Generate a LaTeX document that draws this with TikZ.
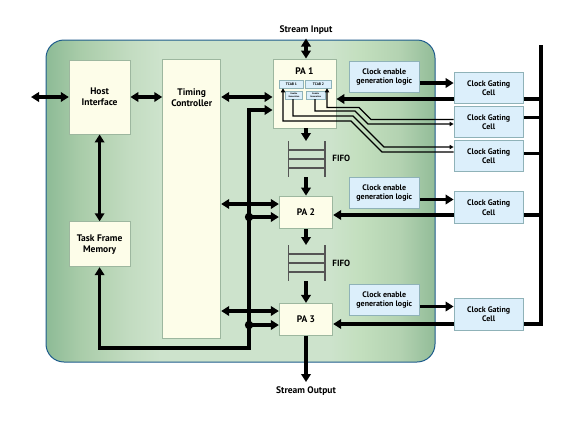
\documentclass[tikz,border=0pt]{standalone}
\usepackage{fontspec}
\setmainfont{PT Sans}
\usetikzlibrary{arrows.meta,calc}
\definecolor{yfill}{HTML}{FDFDE9}
\definecolor{yborder}{HTML}{9DB79F}
\definecolor{bfill}{HTML}{DCEFFB}
\definecolor{bborder}{HTML}{8FB2B8}
\definecolor{pborder}{HTML}{1E5C8C}
\definecolor{fifocol}{HTML}{555555}
\definecolor{ga}{HTML}{8DBB96}
\definecolor{gb}{HTML}{A9CCA9}
\definecolor{gc}{HTML}{C3DCC1}
\definecolor{gd}{HTML}{CDE3CC}
\definecolor{ge}{HTML}{C3DFBE}
\definecolor{gf}{HTML}{B3D2B1}
\definecolor{gg}{HTML}{92BC98}
\pgfdeclarehorizontalshading{panelshade}{100bp}{color(0bp)=(ga); color(25bp)=(ga); color(29.4bp)=(gb); color(35.8bp)=(gc); color(39.7bp)=(gd); color(61.5bp)=(gd); color(65.4bp)=(ge); color(70.5bp)=(gf); color(75bp)=(gg); color(100bp)=(gg)}
\tikzset{
  ybox/.style={draw=yborder, fill=yfill, line width=0.9pt, inner sep=0pt, align=center,
    font=\fontsize{9.5}{11}\selectfont\bfseries},
  bbox/.style={draw=bborder, fill=bfill, line width=0.9pt, inner sep=0pt, align=center,
    font=\fontsize{8}{9.5}\selectfont\bfseries},
  tbox/.style={draw=bborder, fill=bfill, line width=0.5pt, inner sep=0pt, align=center,
    font=\fontsize{3.6}{4}\selectfont\bfseries},
  ebox/.style={draw=bborder, fill=bfill, line width=0.4pt, inner sep=0pt, align=center,
    font=\fontsize{2.3}{2.6}\selectfont\bfseries},
  lbl/.style={inner sep=0pt, align=center, font=\fontsize{9.5}{11}\selectfont\bfseries},
  wire/.style={line width=3.1pt, black},
  arr/.style={wire, -{Triangle[length=8pt,width=9.5pt]}},
  darr/.style={wire, {Triangle[length=8pt,width=9.5pt]}-{Triangle[length=8pt,width=9.5pt]}},
  sig/.style={line width=1.2pt, black, -{Triangle[length=4pt,width=4.2pt]}},
  fifo/.style={line width=1.3pt, fifocol},
}
\begin{document}
\begin{tikzpicture}[x=1pt,y=-1pt]
\useasboundingbox (0,0) rectangle (569,429);
% panel
\shade[shading=panelshade, rounded corners=18pt] (46,40) rectangle (435,362);
\draw[pborder, line width=1pt, rounded corners=18pt] (46,40) rectangle (435,362);

% yellow boxes
\node[ybox, minimum width=60.7pt, minimum height=74pt] (host) at (99.6,97) {Host\\Interface};
\node[ybox, minimum width=58pt, minimum height=279pt] (timing) at (191.7,198.8) {};
\node[lbl] (timinglbl) at (191.7,97.5) {Timing\\Controller};
\node[ybox, minimum width=60.7pt, minimum height=45pt] (tfm) at (99.6,244.2) {Task Frame\\Memory};
\node[ybox, minimum width=63pt, minimum height=69pt] (pa1) at (304.5,93.5) {};
\node[lbl] (pa1lbl) at (304.5,71) {PA 1};
\node[ybox, minimum width=53.4pt, minimum height=32.3pt] (pa2) at (306,212.2) {PA 2};
\node[ybox, minimum width=53.4pt, minimum height=31.7pt] (pa3) at (306,319.2) {PA 3};

% inside PA1
\node[tbox, minimum width=24pt, minimum height=8pt] (tcab1) at (291.5,84) {TCAB 1};
\node[tbox, minimum width=26pt, minimum height=8pt] (tcab2) at (318.5,84) {TCAB 2};
\node[ebox, minimum width=17pt, minimum height=7.5pt] (eg1) at (294,95.2) {Enable\\Generation};
\node[ebox, minimum width=18.5pt, minimum height=7.5pt] (eg2) at (315.7,95.2) {Enable\\Generation};

% blue boxes
\node[bbox, minimum width=70pt, minimum height=31pt] (cegl1) at (384.3,77.2) {Clock enable\\generation logic};
\node[bbox, minimum width=70pt, minimum height=31pt] (cegl2) at (384.3,192.8) {Clock enable\\generation logic};
\node[bbox, minimum width=70pt, minimum height=31pt] (cegl3) at (384.3,300.2) {Clock enable\\generation logic};
\node[bbox, minimum width=69.3pt, minimum height=30.6pt] (cgc1) at (488.7,88) {Clock Gating\\Cell};
\node[bbox, minimum width=69.3pt, minimum height=30.6pt] (cgc2) at (488.7,122.2) {Clock Gating\\Cell};
\node[bbox, minimum width=69.3pt, minimum height=30.6pt] (cgc3) at (488.7,156.2) {Clock Gating\\Cell};
\node[bbox, minimum width=69.3pt, minimum height=31.6pt] (cgc4) at (488.7,207.5) {Clock Gating\\Cell};
\node[bbox, minimum width=69.3pt, minimum height=31.6pt] (cgc5) at (488.7,314.2) {Clock Gating\\Cell};

% FIFOs
\coordinate (f1t) at (306,141);
\coordinate (f1b) at (306,177);
\coordinate (f2t) at (306,245);
\coordinate (f2b) at (306,281);
\draw[fifo] (288.5,141) -- (288.5,177) (325,141) -- (325,177)
  (288.5,150) -- (325,150) (288.5,159) -- (325,159) (288.5,168) -- (325,168);
\draw[fifo] (288.5,245) -- (288.5,281) (325,245) -- (325,281)
  (288.5,254) -- (325,254) (288.5,263) -- (325,263) (288.5,272) -- (325,272);
\node[lbl, font=\fontsize{9}{10}\selectfont\bfseries] (fifo1lbl) at (341.3,158) {FIFO};
\node[lbl, font=\fontsize{9}{10}\selectfont\bfseries] (fifo2lbl) at (341.3,263) {FIFO};

% stream in/out
\node[lbl] (sin) at (306,30) {Stream Input};
\coordinate (sitop) at (306,38.5);
\draw[darr] (sitop) -- (sitop |- pa1.north);
\node[lbl] (sout) at (306,391) {Stream Output};
\coordinate (sobot) at (306,382);
\draw[arr] (sobot |- pa3.south) -- (sobot);

% pipeline arrows
\draw[arr] (f1t |- pa1.south) -- (f1t);
\draw[arr] (f1b) -- (pa2.north);
\draw[arr] (pa2.south) -- (f2t);
\draw[arr] (f2b) -- (pa3.north);

% host / timing links
\coordinate (ext) at (31,97);
\draw[darr] (ext) -- (ext -| host.west);
\draw[darr] (host.east) -- (host.east -| timing.west);
\draw[darr] (host.east -| timing.east) -- (host.east -| pa1.west);
\draw[darr] (host.south) -- (tfm.north);

% left bus
\coordinate (b1) at (249,110);
\coordinate (b2) at (249,348);
\draw[darr] (b1 -| pa1.west) -- (b1) -- (b2) -- (b2 -| tfm.south) -- (tfm.south);
\coordinate (d1) at (249,217);
\coordinate (d2) at (249,325);
\fill (d1) circle (4.2pt);
\fill (d2) circle (4.2pt);
\draw[arr] (d1) -- (d1 -| pa2.west);
\draw[arr] (d2) -- (d2 -| pa3.west);
\coordinate (h2) at (249,204);
\coordinate (h3) at (249,311);
\draw[darr] (h2 -| timing.east) -- (h2 -| pa2.west);
\draw[darr] (h3 -| timing.east) -- (h3 -| pa3.west);

% clock enable -> clock gating
\coordinate (e1) at (430,83);
\coordinate (e2) at (430,199.5);
\coordinate (e3) at (430,306.5);
\draw[arr] (e1 -| cegl1.east) -- (e1 -| cgc1.west);
\draw[arr] (e2 -| cegl2.east) -- (e2 -| cgc4.west);
\draw[arr] (e3 -| cegl3.east) -- (e3 -| cgc5.west);

% clock gating -> PA
\coordinate (k1) at (541,99);
\coordinate (k2) at (541,117.3);
\coordinate (k3) at (541,153.3);
\coordinate (k4) at (541,215);
\coordinate (k5) at (541,324);
\coordinate (clktop) at (541,45);
\draw[arr] (k1 -| cgc1.west) -- (k1 -| pa1.east);
\draw[arr] (k4 -| cgc4.west) -- (k4 -| pa2.east);
\draw[arr] (k5 -| cgc5.west) -- (k5 -| pa3.east);
\draw[wire] (clktop) -- (k5) -- (k5 -| cgc5.east);
\draw[wire] (k1 -| cgc1.east) -- (k1);
\draw[wire] (k2 -| cgc2.east) -- (k2);
\draw[wire] (k3 -| cgc3.east) -- (k3);
\draw[wire] (k4 -| cgc4.east) -- (k4);

% thin control lines in PA1
\coordinate (s1a) at (327,107.5);
\coordinate (s1b) at (359,107.5);
\coordinate (s1c) at (371,119.5);
\draw[sig] (s1c -| cgc2.west) -- (s1c) -- (s1b) -- (s1a) -- (s1a |- tcab2.south);
\coordinate (s2a) at (315,111);
\coordinate (s2b) at (355,111);
\coordinate (s2c) at (368,124);
\draw[sig] (s2a |- eg2.south) -- (s2a) -- (s2b) -- (s2c) -- (s2c -| cgc2.west);
\coordinate (s3a) at (293,116);
\coordinate (s3b) at (353,116);
\coordinate (s3c) at (384,147);
\draw[sig] (s3a |- eg1.south) -- (s3a) -- (s3b) -- (s3c) -- (s3c -| cgc3.west);
\coordinate (s4a) at (283,121);
\coordinate (s4b) at (351,121);
\coordinate (s4c) at (382,152);
\draw[sig] (s4c -| cgc3.west) -- (s4c) -- (s4b) -- (s4a) -- (s4a |- tcab1.south);
\end{tikzpicture}
\end{document}
